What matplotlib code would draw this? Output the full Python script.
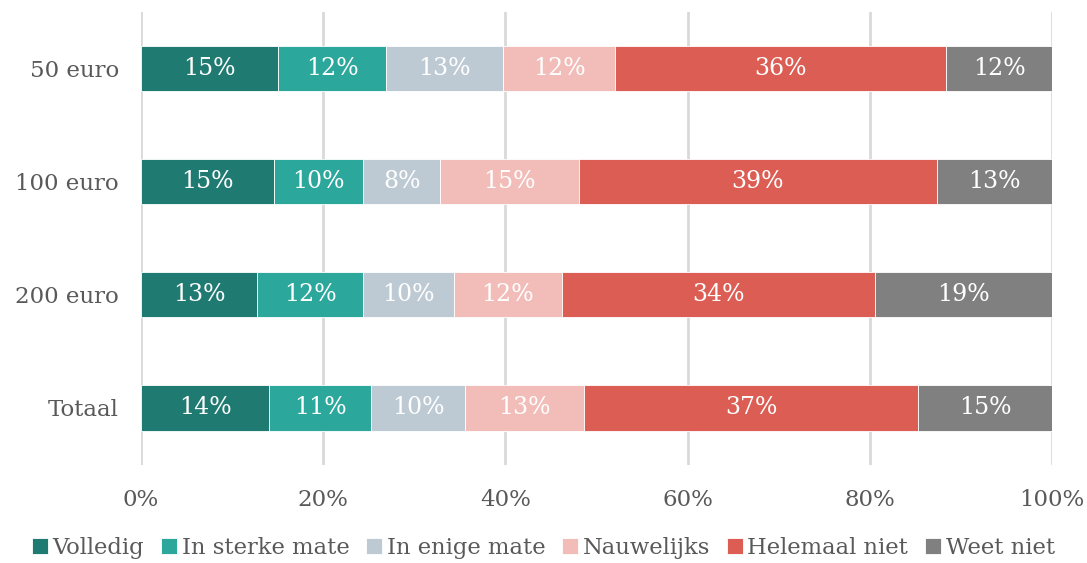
import matplotlib
matplotlib.use("Agg")
import matplotlib.pyplot as plt
import numpy as np

categories = ["50 euro", "100 euro", "200 euro", "Totaal"]
series = ["Volledig", "In sterke mate", "In enige mate", "Nauwelijks", "Helemaal niet", "Weet niet"]
volledig = [15.07, 14.63, 12.73, 14.08]
in_sterke_mate = [11.85, 9.76, 11.66, 11.16]
in_enige_mate = [12.84, 8.45, 9.92, 10.35]
nauwelijks = [12.28, 15.19, 11.89, 13.02]
helemaal_niet = [36.33, 39.35, 34.38, 36.69]
weet_niet = [11.63, 12.62, 19.42, 14.70]
xticks = [0, 20, 40, 60, 80, 100]
xticklabels = ["0%", "20%", "40%", "60%", "80%", "100%"]

colors = ["#1F7B72", "#2BA79B", "#BECAD3", "#F2BDB9", "#DC5D53", "#808080"]
values = [volledig, in_sterke_mate, in_enige_mate, nauwelijks, helemaal_niet, weet_niet]

plt.rcParams['font.family'] = ['DejaVu Serif']
W, H = 1087, 563
fig = plt.figure(figsize=(W / 100, H / 100), dpi=100)
ax = fig.add_axes([141 / W, 1 - 464.5 / H, (1052 - 141) / W, (464.5 - 12) / H])

y = np.arange(len(categories))
left = np.zeros(len(categories))
handles = []
for name, vals, c in zip(series, values, colors):
    vals = np.array(vals)
    b = ax.barh(y, vals, left=left, height=0.4, color=c, edgecolor="white",
                linewidth=0.6, label=name, zorder=3)
    handles.append(b)
    for yi, (l, v) in enumerate(zip(left, vals)):
        ax.text(l + v / 2, yi, f"{round(v):d}%", ha="center", va="center",
                color="white", fontsize=17, zorder=4)
    left += vals

ax.set_xlim(0, 100)
ax.set_ylim(len(categories) - 0.5, -0.5)
ax.set_yticks(y)
ax.set_yticklabels(categories, fontsize=16.5, color="#595959")
ax.set_xticks(xticks)
ax.set_xticklabels(xticklabels, fontsize=16.5, color="#595959")
ax.tick_params(axis="both", length=0)
ax.tick_params(axis="y", pad=16)
ax.tick_params(axis="x", pad=18)
ax.grid(axis="x", color="#D9D9D9", linewidth=2, zorder=0)
for s in ax.spines.values():
    s.set_visible(False)

leg = fig.legend(handles=handles, labels=series, loc="center", bbox_to_anchor=(0.5, 1 - 548 / H),
                 ncol=6, frameon=False, fontsize=16.3, handlelength=0.7, handleheight=0.7,
                 handletextpad=0.2, columnspacing=0.75, labelcolor="#595959")

fig.savefig("out.png", dpi=100)
